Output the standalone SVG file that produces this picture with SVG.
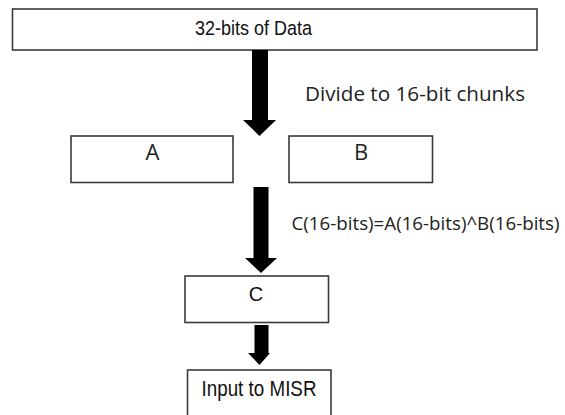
<svg xmlns="http://www.w3.org/2000/svg" width="565" height="415" viewBox="0 0 565 415">
<style>
.box{fill:#fff;stroke:#3a3a3a;stroke-width:1.6}
.narrow{font-family:"Liberation Sans",Arial,sans-serif;fill:#111}
.ui{font-family:"Open Sans","Noto Sans",sans-serif;fill:#222}
.arrow{fill:#000}
</style>
<rect width="565" height="415" fill="#fff"/>
<g id="node-data">
<rect class="box" x="12.5" y="9" width="524.5" height="41"/>
<text class="narrow" x="195" y="35" font-size="20.5" textLength="117" lengthAdjust="spacingAndGlyphs">32-bits of Data</text>
</g>
<g id="node-a">
<rect class="box" x="71" y="136" width="162" height="46.5"/>
<text class="ui" x="152.5" y="160" font-size="22" text-anchor="middle">A</text>
</g>
<g id="node-b">
<rect class="box" x="289" y="136" width="143.5" height="46.5"/>
<text class="ui" x="361" y="160" font-size="22" text-anchor="middle">B</text>
</g>
<g id="node-c">
<rect class="box" x="185" y="276" width="143.5" height="46.5"/>
<text class="narrow" x="256" y="301" font-size="20" text-anchor="middle">C</text>
</g>
<g id="node-misr">
<rect class="box" x="187.5" y="370" width="143.5" height="60"/>
<text class="narrow" x="201.5" y="395.5" font-size="22" textLength="115" lengthAdjust="spacingAndGlyphs">Input to MISR</text>
</g>
<g id="connectors">
<g id="arrow-1">
<rect class="arrow" x="252" y="50" width="16" height="71"/>
<polygon class="arrow" points="243,120 276,120 259.5,136"/>
</g>
<text class="ui" x="305" y="100.5" font-size="20.5" textLength="220" lengthAdjust="spacingAndGlyphs">Divide to 16-bit chunks</text>
<g id="arrow-2">
<rect class="arrow" x="253.5" y="187" width="15" height="72"/>
<polygon class="arrow" points="245,258 277,258 261,273"/>
</g>
<text class="ui" x="291.5" y="230" font-size="18.5" textLength="268" lengthAdjust="spacingAndGlyphs">C(16-bits)=A(16-bits)^B(16-bits)</text>
<g id="arrow-3">
<rect class="arrow" x="254.5" y="325" width="14" height="29"/>
<polygon class="arrow" points="248,353 270,353 259.5,365"/>
</g>
</g>
</svg>
